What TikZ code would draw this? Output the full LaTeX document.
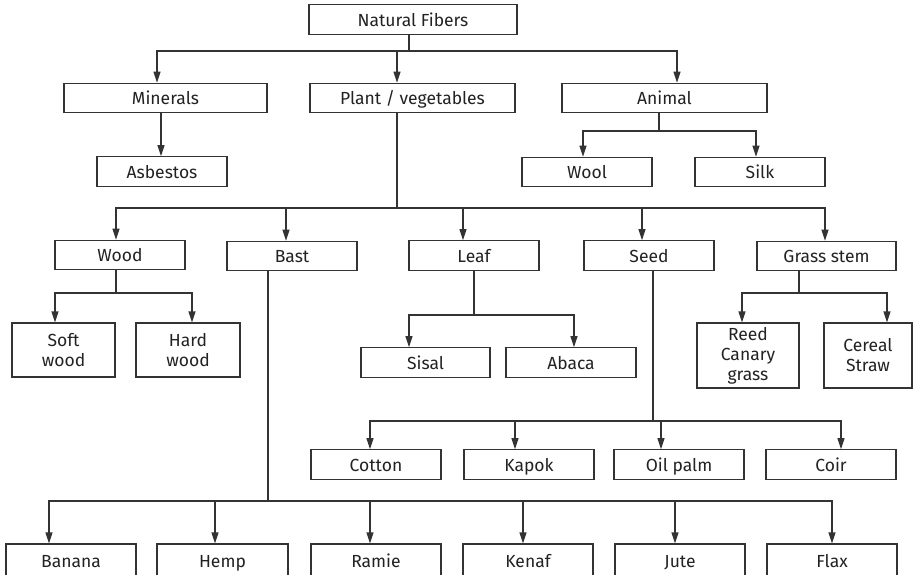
\documentclass[tikz,border=0pt]{standalone}
\usepackage{fontspec}
\setmainfont{Fira Sans}
\usetikzlibrary{arrows.meta,calc}
\definecolor{ln}{HTML}{333333}
\definecolor{tx}{HTML}{222222}
\begin{document}
\begin{tikzpicture}[x=1pt,y=-1pt,
  box/.style={draw=ln,line width=1.2pt,rectangle,inner sep=0pt,align=center,
    text=tx,font=\fontsize{17.5}{20}\selectfont,minimum height=29.5pt,
    text height=14.5pt,text depth=1.5pt},
  multi/.style={text height=,text depth=},
  conn/.style={draw=ln,line width=1.2pt},
  arr/.style={conn,-{Triangle[length=11pt,width=7pt]}}]
\useasboundingbox (0,0) rectangle (916,574);
\clip (0,0) rectangle (916,574);
\fill[white] (0,0) rectangle (916,574);
% level 0-1
\node[box,minimum width=208pt] (nat) at (413,19.5) {Natural Fibers};
\node[box,minimum width=203pt] (min) at (165.5,98) {Minerals};
\node[box,minimum width=205pt] (plant) at (412.5,98) {Plant / vegetables};
\node[box,minimum width=205pt] (animal) at (664.5,98) {Animal};
% level 2 top
\node[box,minimum width=130pt] (asb) at (162,171.5) {Asbestos};
\node[box,minimum width=130pt] (wool) at (587,172) {Wool};
\node[box,minimum width=130pt] (silk) at (760,172) {Silk};
% level 2 plant
\node[box,minimum width=130pt] (wood) at (120,255) {Wood};
\node[box,minimum width=130pt] (bast) at (292,256) {Bast};
\node[box,minimum width=130pt] (leaf) at (474,255.5) {Leaf};
\node[box,minimum width=130pt] (seed) at (649,255.5) {Seed};
\node[box,minimum width=139pt] (grass) at (826.5,256) {Grass stem};
% level 3
\node[box,multi,minimum width=103pt,minimum height=54pt] (soft) at (63.5,350) {Soft\\wood};
\node[box,multi,minimum width=104pt,minimum height=54pt] (hard) at (188,350) {Hard\\wood};
\node[box,multi,minimum width=102pt,minimum height=65pt] (reed) at (748,355.5) {Reed\\Canary\\grass};
\node[box,multi,minimum width=88pt,minimum height=65pt] (cereal) at (868,355.5) {Cereal\\Straw};
\node[box,minimum width=129pt] (sisal) at (425.5,362.5) {Sisal};
\node[box,minimum width=130pt] (abaca) at (571,362.5) {Abaca};
\node[box,minimum width=130pt] (cotton) at (376,464.5) {Cotton};
\node[box,minimum width=130pt] (kapok) at (529,464.5) {Kapok};
\node[box,minimum width=130pt] (oil) at (679,464.5) {Oil palm};
\node[box,minimum width=130pt] (coir) at (831,464.5) {Coir};
% bottom row (cut by the picture edge)
\node[box,minimum width=130pt,minimum height=34pt] (banana) at (71,561) {Banana};
\node[box,minimum width=131pt,minimum height=34pt] (hemp) at (222.5,561) {Hemp};
\node[box,minimum width=130pt,minimum height=34pt] (ramie) at (376,561) {Ramie};
\node[box,minimum width=130pt,minimum height=34pt] (kenaf) at (528,561) {Kenaf};
\node[box,minimum width=130pt,minimum height=34pt] (jute) at (680,561) {Jute};
\node[box,minimum width=130pt,minimum height=34pt] (flax) at (832,561) {Flax};
% junctions
\coordinate (j0) at (409,51);
\coordinate (jm) at (161,120);
\coordinate (ja) at (659,131);
\coordinate (jp) at (397,208);
\coordinate (jw) at (116,293);
\coordinate (jb) at (268,501);
\coordinate (jl) at (474,315);
\coordinate (js) at (653,421);
\coordinate (jg) at (799,293);
% connectors
\draw[conn] (nat.south -| j0) -- (j0);
\draw[arr] (j0) -| ([xshift=-8.5pt]min.north);
\draw[arr] (j0) -| ([xshift=-15.5pt]plant.north);
\draw[arr] (j0) -| ([xshift=12.5pt]animal.north);
\draw[arr] (min.south -| jm) -- (asb.north -| jm);
\draw[conn] (animal.south -| ja) -- (ja);
\draw[arr] (ja) -| ([xshift=-4pt]wool.north);
\draw[arr] (ja) -| ([xshift=-4pt]silk.north);
\draw[conn] (plant.south -| jp) -- (jp);
\draw[arr] (jp) -| ([xshift=-4pt]wood.north);
\draw[arr] (jp) -| ([xshift=-6pt]bast.north);
\draw[arr] (jp) -| ([xshift=-11pt]leaf.north);
\draw[arr] (jp) -| ([xshift=-7pt]seed.north);
\draw[arr] (jp) -| ([xshift=-1.5pt]grass.north);
\draw[conn] (wood.south -| jw) -- (jw);
\draw[arr] (jw) -| ([xshift=-8.5pt]soft.north);
\draw[arr] (jw) -| ([xshift=4pt]hard.north);
\draw[conn] (bast.south -| jb) -- (jb);
\draw[arr] (jb) -| ([xshift=-22pt]banana.north);
\draw[arr] (jb) -| ([xshift=-7.5pt]hemp.north);
\draw[arr] (jb) -| ([xshift=-6pt]ramie.north);
\draw[arr] (jb) -| ([xshift=-5pt]kenaf.north);
\draw[arr] (jb) -| ([xshift=-5pt]jute.north);
\draw[arr] (jb) -| (flax.north);
\draw[conn] (leaf.south -| jl) -- (jl);
\draw[arr] (jl) -| ([xshift=-16.5pt]sisal.north);
\draw[arr] (jl) -| ([xshift=3pt]abaca.north);
\draw[conn] (seed.south -| js) -- (js);
\draw[arr] (js) -| ([xshift=-6pt]cotton.north);
\draw[arr] (js) -| ([xshift=-14pt]kapok.north);
\draw[arr] (js) -| ([xshift=-18pt]oil.north);
\draw[arr] (js) -| ([xshift=10pt]coir.north);
\draw[conn] (grass.south -| jg) -- (jg);
\draw[arr] (jg) -| ([xshift=-6pt]reed.north);
\draw[arr] (jg) -| ([xshift=19pt]cereal.north);
\end{tikzpicture}
\end{document}
